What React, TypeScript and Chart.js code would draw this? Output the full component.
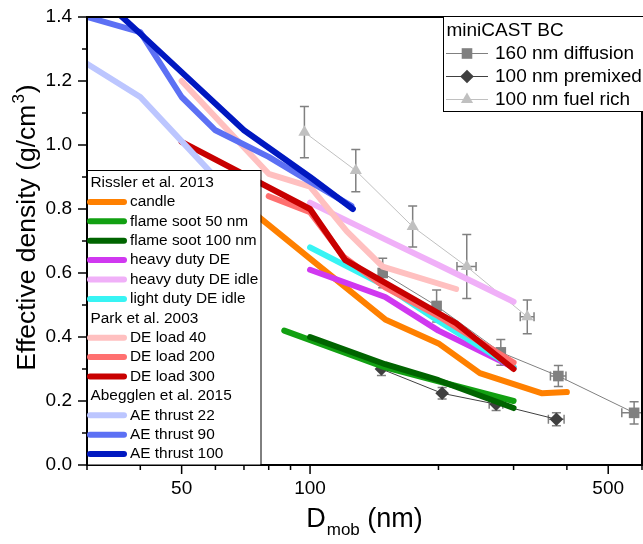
import React, { useEffect, useRef } from 'react';
import { Chart, registerables } from 'chart.js';

Chart.register(...registerables);

// ---------- axis ticks ----------
const xMajorTicks = [50, 100, 500];
const xMinorTicks = [30, 40, 60, 70, 80, 90, 200, 300, 400, 600];
const yMajorTicks = [0, 0.2, 0.4, 0.6, 0.8, 1.0, 1.2, 1.4];
const yMinorTicks = [0.1, 0.3, 0.5, 0.7, 0.9, 1.1, 1.3];

// ---------- miniCAST BC measurements ----------
const diffusionX = [148, 198, 280, 382, 575];
const diffusionY = [0.6, 0.497, 0.352, 0.278, 0.163];
const diffusionYErr = [0.046, 0.05, 0.04, 0.033, 0.035];
const diffusionXErr = [3, 5, 8, 16, 37];

const premixedX = [147, 204, 273, 378];
const premixedY = [0.3, 0.224, 0.19, 0.143];
const premixedYErr = [0.02, 0.018, 0.02, 0.02];
const premixedXErr = [4, 6, 10, 16];

const fuelRichX = [97, 128, 174, 233, 323];
const fuelRichY = [1.04, 0.92, 0.745, 0.62, 0.463];
const fuelRichYErr = [0.08, 0.066, 0.064, 0.1, 0.053];
const fuelRichXErr = [2, 3, 4, 12, 12];

// ---------- literature ----------
const candleX = [62, 100, 150, 200, 250, 350, 400];
const candleY = [0.87, 0.645, 0.455, 0.38, 0.287, 0.224, 0.228];
const flame50X = [87, 150, 300];
const flame50Y = [0.42, 0.305, 0.2];
const flame100X = [100, 150, 200, 300];
const flame100Y = [0.4, 0.315, 0.265, 0.178];
const heavyDEX = [100, 150, 200, 300];
const heavyDEY = [0.61, 0.525, 0.42, 0.305];
const heavyIdleX = [100, 150, 200, 300];
const heavyIdleY = [0.82, 0.705, 0.625, 0.51];
const lightIdleX = [100, 150, 200, 300];
const lightIdleY = [0.68, 0.56, 0.45, 0.305];
const de40X = [50, 80, 100, 122, 148, 220];
const de40Y = [1.2, 0.91, 0.87, 0.73, 0.62, 0.55];
const de200X = [80, 100, 120, 150, 200, 300];
const de200Y = [0.84, 0.79, 0.65, 0.555, 0.465, 0.32];
const de300X = [50, 100, 121, 220, 300];
const de300Y = [1.01, 0.8, 0.64, 0.443, 0.3];
const ae22X = [30, 40, 58, 66];
const ae22Y = [1.254, 1.15, 0.92, 0.84];
const ae90X = [30, 40, 50, 60, 80, 100, 125];
const ae90Y = [1.4, 1.353, 1.15, 1.046, 0.963, 0.885, 0.81];
const ae100X = [33, 40, 70, 100, 126];
const ae100Y = [1.45, 1.348, 1.046, 0.9, 0.8];

const litSeries = [
  { group: 'Rissler et al. 2013', label: 'candle', xs: candleX, ys: candleY, color: '#ff8000' },
  { group: 'Rissler et al. 2013', label: 'flame soot 50 nm', xs: flame50X, ys: flame50Y, color: '#12a012' },
  { group: 'Rissler et al. 2013', label: 'flame soot 100 nm', xs: flame100X, ys: flame100Y, color: '#006400' },
  { group: 'Rissler et al. 2013', label: 'heavy duty DE', xs: heavyDEX, ys: heavyDEY, color: '#d038f0' },
  { group: 'Rissler et al. 2013', label: 'heavy duty DE idle', xs: heavyIdleX, ys: heavyIdleY, color: '#f0b0f8' },
  { group: 'Rissler et al. 2013', label: 'light duty DE idle', xs: lightIdleX, ys: lightIdleY, color: '#38f4f4' },
  { group: 'Park et al. 2003', label: 'DE load 40', xs: de40X, ys: de40Y, color: '#ffc0c0' },
  { group: 'Park et al. 2003', label: 'DE load 200', xs: de200X, ys: de200Y, color: '#ff7070' },
  { group: 'Park et al. 2003', label: 'DE load 300', xs: de300X, ys: de300Y, color: '#c80000' },
  { group: 'Abegglen et al. 2015', label: 'AE thrust 22', xs: ae22X, ys: ae22Y, color: '#bcc6ff' },
  { group: 'Abegglen et al. 2015', label: 'AE thrust 90', xs: ae90X, ys: ae90Y, color: '#5c70f4' },
  { group: 'Abegglen et al. 2015', label: 'AE thrust 100', xs: ae100X, ys: ae100Y, color: '#0018c0' },
];

const castSeries = [
  { label: '160 nm diffusion', xs: diffusionX, ys: diffusionY, xe: diffusionXErr, ye: diffusionYErr, line: '#808080', fill: '#808080', style: 'rect', r: 7.5 },
  { label: '100 nm premixed', xs: premixedX, ys: premixedY, xe: premixedXErr, ye: premixedYErr, line: '#404040', fill: '#404040', style: 'rectRot', r: 6.8 },
  { label: '100 nm fuel rich', xs: fuelRichX, ys: fuelRichY, xe: fuelRichXErr, ye: fuelRichYErr, line: '#c0c0c0', fill: '#c0c0c0', style: 'triangle', r: 7 },
];

const FONT = '"Liberation Sans", Arial, Helvetica, sans-serif';

function drawMarker(ctx: CanvasRenderingContext2D, style: string, x: number, y: number, r: number, color: string) {
  ctx.save();
  ctx.fillStyle = color;
  ctx.beginPath();
  if (style === 'rect') {
    const s = Math.SQRT1_2 * r;
    ctx.rect(x - s, y - s, 2 * s, 2 * s);
  } else if (style === 'rectRot') {
    ctx.moveTo(x - r, y);
    ctx.lineTo(x, y - r);
    ctx.lineTo(x + r, y);
    ctx.lineTo(x, y + r);
    ctx.closePath();
  } else {
    const h = Math.sqrt(3) / 2 * r;
    ctx.moveTo(x, y - r);
    ctx.lineTo(x + h, y + r / 2);
    ctx.lineTo(x - h, y + r / 2);
    ctx.closePath();
  }
  ctx.fill();
  ctx.restore();
}

const decorPlugin = {
  id: 'decor',
  beforeDatasetsDraw(chart: any) {
    const { ctx } = chart;
    const xs = chart.scales.x;
    const ys = chart.scales.y;
    ctx.save();
    ctx.strokeStyle = '#808080';
    ctx.lineWidth = 1.5;
    const cap = 4.5;
    castSeries.forEach((s) => {
      s.xs.forEach((xv, i) => {
        const px = xs.getPixelForValue(xv);
        const py = ys.getPixelForValue(s.ys[i]);
        const t = ys.getPixelForValue(s.ys[i] + s.ye[i]);
        const b = ys.getPixelForValue(s.ys[i] - s.ye[i]);
        ctx.beginPath();
        ctx.moveTo(px, t); ctx.lineTo(px, b);
        ctx.moveTo(px - cap, t); ctx.lineTo(px + cap, t);
        ctx.moveTo(px - cap, b); ctx.lineTo(px + cap, b);
        ctx.stroke();
        const l = xs.getPixelForValue(xv - s.xe[i]);
        const r = xs.getPixelForValue(xv + s.xe[i]);
        if (r - px >= 6) {
          ctx.beginPath();
          ctx.moveTo(l, py); ctx.lineTo(r, py);
          ctx.moveTo(l, py - cap); ctx.lineTo(l, py + cap);
          ctx.moveTo(r, py - cap); ctx.lineTo(r, py + cap);
          ctx.stroke();
        }
      });
    });
    ctx.restore();
  },
  afterDatasetsDraw(chart: any) {
    const { ctx, chartArea } = chart;
    const { left, right, top, bottom } = chartArea;
    const xs = chart.scales.x;
    const ys = chart.scales.y;
    ctx.save();
    // frame
    ctx.strokeStyle = '#000';
    ctx.lineWidth = 2;
    ctx.strokeRect(left, top, right - left, bottom - top);
    // tick marks
    ctx.lineWidth = 1.5;
    ctx.beginPath();
    yMajorTicks.forEach((v) => { const p = ys.getPixelForValue(v); ctx.moveTo(left, p); ctx.lineTo(left - 9, p); });
    yMinorTicks.forEach((v) => { const p = ys.getPixelForValue(v); ctx.moveTo(left, p); ctx.lineTo(left - 5, p); });
    xMajorTicks.forEach((v) => { const p = xs.getPixelForValue(v); ctx.moveTo(p, bottom); ctx.lineTo(p, bottom + 9); });
    xMinorTicks.forEach((v) => { const p = xs.getPixelForValue(v); ctx.moveTo(p, bottom); ctx.lineTo(p, bottom + 5); });
    ctx.stroke();

    // ---- legend 1 (literature) ----
    const l1x = left, l1y = 170.5, l1w = 173.5, l1h = bottom - 170.5;
    ctx.fillStyle = '#fff';
    ctx.fillRect(l1x, l1y, l1w, l1h);
    ctx.strokeStyle = '#000';
    ctx.lineWidth = 1;
    ctx.strokeRect(l1x + 0.5, l1y, l1w, l1h);
    ctx.font = `15.4px ${FONT}`;
    ctx.textBaseline = 'middle';
    ctx.textAlign = 'left';
    let rowY = 182.5;
    const step = 19.4;
    let lastGroup = '';
    litSeries.forEach((s) => {
      if (s.group !== lastGroup) {
        ctx.fillStyle = '#000';
        ctx.fillText(s.group, left + 3.5, rowY);
        rowY += step;
        lastGroup = s.group;
      }
      ctx.strokeStyle = s.color;
      ctx.lineWidth = 6;
      ctx.lineCap = 'round';
      ctx.beginPath();
      ctx.moveTo(left + 3, rowY);
      ctx.lineTo(left + 37, rowY);
      ctx.stroke();
      ctx.fillStyle = '#000';
      ctx.fillText(s.label, left + 43, rowY);
      rowY += step;
    });

    // ---- legend 2 (miniCAST) ----
    const l2x = 443.5, l2y = 16.5, l2w = 205, l2h = 95;
    ctx.fillStyle = '#fff';
    ctx.fillRect(l2x, l2y, l2w, l2h);
    ctx.strokeStyle = '#000';
    ctx.lineWidth = 1;
    ctx.lineCap = 'butt';
    ctx.strokeRect(l2x, l2y, l2w, l2h);
    ctx.font = `19px ${FONT}`;
    ctx.fillStyle = '#000';
    ctx.fillText('miniCAST BC', 446.5, 30.5);
    castSeries.forEach((s, i) => {
      const y = 53.5 + i * 23;
      ctx.strokeStyle = s.line;
      ctx.lineWidth = 1;
      ctx.beginPath();
      ctx.moveTo(446, y); ctx.lineTo(488, y);
      ctx.stroke();
      drawMarker(ctx, s.style, 467, y, s.r, s.fill);
      ctx.fillStyle = '#000';
      ctx.fillText(s.label, 495, y);
    });

    // ---- axis titles ----
    ctx.fillStyle = '#000';
    ctx.textBaseline = 'alphabetic';
    // y title
    ctx.save();
    ctx.translate(35, 227.5);
    ctx.rotate(-Math.PI / 2);
    const big = `26.5px ${FONT}`;
    const small = `17px ${FONT}`;
    const p1 = 'Effective density (g/cm';
    const p2 = '3';
    const p3 = ')';
    ctx.font = big; const w1 = ctx.measureText(p1).width; const w3 = ctx.measureText(p3).width;
    ctx.font = small; const w2 = ctx.measureText(p2).width + 2;
    let sx = -(w1 + w2 + w3) / 2;
    ctx.font = big; ctx.fillText(p1, sx, 0); sx += w1;
    ctx.font = small; ctx.fillText(p2, sx + 1, -11); sx += w2;
    ctx.font = big; ctx.fillText(p3, sx, 0);
    ctx.restore();
    // x title
    const q1 = 'D', q2 = 'mob', q3 = ' (nm)';
    const xbig = `27px ${FONT}`;
    const xsmall = `17px ${FONT}`;
    ctx.font = xbig; const v1 = ctx.measureText(q1).width; const v3 = ctx.measureText(q3).width;
    ctx.font = xsmall; const v2 = ctx.measureText(q2).width + 1;
    let tx = (left + right) / 2 - (v1 + v2 + v3) / 2;
    const base = 527;
    ctx.font = xbig; ctx.fillText(q1, tx, base); tx += v1;
    ctx.font = xsmall; ctx.fillText(q2, tx + 1, base + 8); tx += v2;
    ctx.font = xbig; ctx.fillText(q3, tx, base);
    ctx.restore();
  },
};

export default function App() {
  const ref = useRef<HTMLCanvasElement>(null);
  useEffect(() => {
    document.body.style.margin = '0';
    const canvas = ref.current;
    if (!canvas) return;
    const n = litSeries.length;
    const datasets: any[] = [];
    castSeries.forEach((s, i) => {
      datasets.push({
        label: s.label,
        data: s.xs.map((x, k) => ({ x, y: s.ys[k] })),
        borderColor: s.line,
        borderWidth: 1,
        pointStyle: s.style,
        pointRadius: s.r,
        pointBackgroundColor: s.fill,
        pointBorderColor: s.fill,
        pointBorderWidth: 0,
        fill: false,
        tension: 0,
        clip: 0,
        order: 100 + i,
      });
    });
    litSeries.forEach((s, i) => {
      datasets.push({
        label: s.label,
        data: s.xs.map((x, k) => ({ x, y: s.ys[k] })),
        borderColor: s.color,
        borderWidth: 6,
        borderCapStyle: 'round',
        borderJoinStyle: 'round',
        pointRadius: 0,
        fill: false,
        tension: 0,
        clip: 0,
        order: n - i,
      });
    });
    const zeroPad = (scale: any) => {
      scale.paddingLeft = 0;
      scale.paddingRight = 0;
      scale.paddingTop = 0;
      scale.paddingBottom = 0;
    };
    const chart = new Chart(canvas, {
      type: 'line',
      data: { datasets },
      options: {
        animation: false,
        responsive: false,
        devicePixelRatio: 1,
        events: [],
        layout: { autoPadding: false, padding: { top: 17, right: 1, left: 0, bottom: 0 } },
        plugins: { legend: { display: false }, tooltip: { enabled: false }, title: { display: false } },
        scales: {
          x: {
            type: 'logarithmic',
            min: 30,
            max: 600,
            bounds: 'data',
            offset: false,
            border: { display: false },
            grid: { display: false, drawTicks: false, offset: false },
            afterBuildTicks: (scale: any) => { scale.ticks = xMajorTicks.map((v) => ({ value: v })); },
            afterFit: (scale: any) => { scale.height = 79; zeroPad(scale); },
            ticks: {
              autoSkip: false,
              maxRotation: 0,
              padding: 12,
              color: '#000',
              font: { family: FONT, size: 19 },
              callback: (v: any) => String(v),
            },
          },
          y: {
            type: 'linear',
            min: 0,
            max: 1.4,
            bounds: 'data',
            border: { display: false },
            grid: { display: false, drawTicks: false },
            afterBuildTicks: (scale: any) => { scale.ticks = yMajorTicks.map((v) => ({ value: v })); },
            afterFit: (scale: any) => { scale.width = 87; zeroPad(scale); },
            ticks: {
              autoSkip: false,
              padding: 15,
              color: '#000',
              font: { family: FONT, size: 19 },
              callback: (v: any) => Number(v).toFixed(1),
            },
          },
        },
      },
      plugins: [decorPlugin],
    } as any);
    return () => chart.destroy();
  }, []);
  return (
    <div style={{ width: 643, height: 544 }}>
      <canvas ref={ref} width={643} height={544} style={{ display: 'block' }} />
    </div>
  );
}
